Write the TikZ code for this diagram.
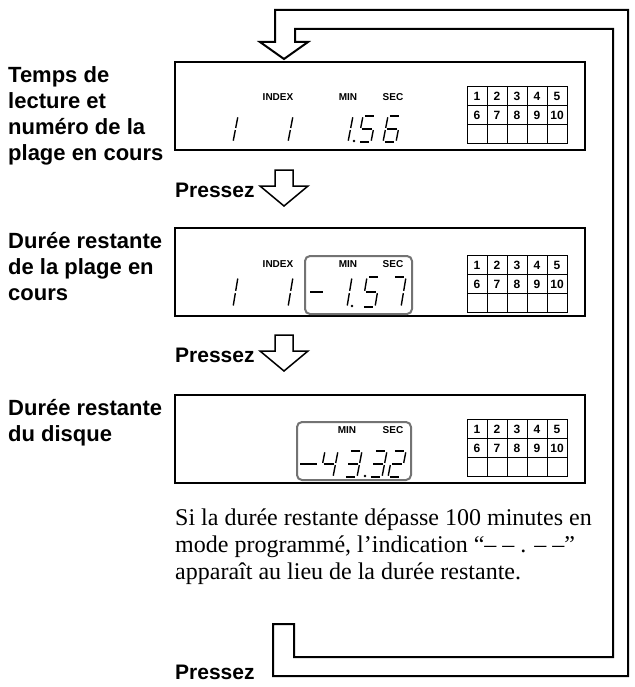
\documentclass[tikz,border=0pt]{standalone}
\usepackage{fontspec}
\setmainfont{Liberation Serif}
\setsansfont{Liberation Sans}
\usetikzlibrary{positioning}

% one slanted seven-segment digit: [height] {position} {segments}
\newcommand{\lcddigit}[3][26]{%
  \begin{scope}[shift={#2}, x={(13pt,0pt)}, y={(5pt,#1pt)}]
    \coordinate (a1) at (0.14,1);    \coordinate (a2) at (0.86,1);
    \coordinate (b1) at (1,0.95);    \coordinate (b2) at (1,0.54);
    \coordinate (c1) at (1,0.46);    \coordinate (c2) at (1,0.05);
    \coordinate (d1) at (0.14,0);    \coordinate (d2) at (0.86,0);
    \coordinate (e1) at (0,0.46);    \coordinate (e2) at (0,0.05);
    \coordinate (f1) at (0,0.95);    \coordinate (f2) at (0,0.54);
    \coordinate (g1) at (0.14,0.5);  \coordinate (g2) at (0.86,0.5);
    \foreach \s in {#3} \draw[lcd] (\s1) -- (\s2);
  \end{scope}}
\newcommand{\lcddot}[1]{\fill #1 circle[radius=1.3pt];}

% track grid 1..10 with an empty third row
\newcommand{\trackgrid}[2]{%
  \begin{scope}[shift={#2}]
    \draw[gridline] (0,0) rectangle (100,57);
    \foreach \i in {1,...,4} \draw[gridline] (20*\i,0) -- (20*\i,57);
    \foreach \j in {1,2} \draw[gridline] (0,19*\j) -- (100,19*\j);
    \foreach \n in {1,...,5} {
      \pgfmathtruncatemacro\m{\n+5}
      \node[tracknum] (#1-\n) at (20*\n-10,10) {\n};
      \node[tracknum] (#1-\m) at (20*\n-10,29) {\m};
    }
  \end{scope}}

\begin{document}
\begin{tikzpicture}[
  x=1pt, y=-1pt,
  display/.style ={draw, line width=2.2pt, minimum width=410pt, minimum height=88pt, inner sep=0pt},
  window/.style  ={draw=black!55, line width=2pt, rounded corners=5pt, inner sep=0pt},
  tag/.style     ={font=\sffamily\bfseries\fontsize{10}{12}\selectfont, inner sep=0pt},
  caption/.style ={font=\sffamily\bfseries\fontsize{22}{26}\selectfont, align=left, anchor=north west, inner sep=0pt},
  press/.style   ={font=\sffamily\bfseries\fontsize{21}{26}\selectfont, anchor=base west, inner sep=0pt},
  note/.style    ={font=\fontsize{24}{27}\selectfont, align=left, anchor=north west, inner sep=0pt},
  pipe/.style    ={line width=2pt, line join=miter},
  hollow/.style  ={line width=1.5pt, line join=miter},
  lcd/.style     ={line width=1.4pt},
  gridline/.style={line width=0.8pt},
  tracknum/.style={font=\sffamily\bfseries\fontsize{12}{14}\selectfont, inner sep=0pt}
]
\useasboundingbox (0,0) rectangle (634,687);

% ---- return loop with the big hollow arrow ----
\draw[pipe] (275,42) -- (275,10) -- (628,10) -- (628,676) -- (273,676) -- (273,624)
  -- (294,624) -- (294,657) -- (613,657) -- (613,29) -- (295,29) -- (295,42)
  -- (308,42) -- (284,59) -- (260,42) -- cycle;

% ---- display 1: elapsed time ----
\node[caption] (lab1) at (8,66) {Temps de\\lecture et\\numéro de la\\plage en cours};
\node[display] (disp1) at (380,106) {};
\node[tag] (idx1) at (278,97) {INDEX};
\node[tag] (min1) at (348,97) {MIN};
\node[tag] (sec1) at (393,97) {SEC};
\lcddigit{(220,142)}{b,c}
\lcddigit{(275,142)}{b,c}
\lcddigit{(335,142)}{b,c}
\lcddot{(354,141)}
\lcddigit{(358,142)}{a,f,g,c,d}
\lcddigit{(383,142)}{a,f,g,e,c,d}
\trackgrid{t1}{(467,86)}

\node[press] (press1) at (175,197) {Pressez};
\draw[hollow] (275,170) -- (293,170) -- (293,186) -- (308,186) -- (284,206) -- (260,186) -- (275,186) -- cycle;

% ---- display 2: remaining time of the track ----
\node[caption] (lab2) at (8,232) {Durée restante\\de la plage en\\cours};
\node[display] (disp2) at (380,272) {};
\node[window, minimum width=107pt, minimum height=58pt] (win2) at (358.5,285) {};
\node[tag] (idx2) at (278,264) {INDEX};
\node[tag] (min2) at (348,264) {MIN};
\node[tag] (sec2) at (393,264) {SEC};
\lcddigit[30]{(220,307)}{b,c}
\lcddigit[30]{(275,307)}{b,c}
\draw[lcd] (310,292) -- (323,292);
\lcddigit[30]{(334,307)}{b,c}
\lcddot{(352,306)}
\lcddigit[30]{(362,307)}{a,f,g,c,d}
\lcddigit[30]{(388,307)}{a,b,c}
\trackgrid{t2}{(467,255)}

\node[press] (press2) at (175,362) {Pressez};
\draw[hollow] (275,335) -- (293,335) -- (293,351) -- (308,351) -- (284,371) -- (260,351) -- (275,351) -- cycle;

% ---- display 3: remaining time of the disc ----
\node[caption] (lab3) at (8,399) {Durée restante\\du disque};
\node[display] (disp3) at (380,439) {};
\node[window, minimum width=114pt, minimum height=58pt] (win3) at (354,451) {};
\node[tag] (min3) at (347,430) {MIN};
\node[tag] (sec3) at (393,430) {SEC};
\draw[lcd] (300,464) -- (317,464);
\lcddigit{(320,477)}{f,g,b,c}
\lcddigit{(344,477)}{a,b,g,c,d}
\lcddot{(365,476)}
\lcddigit{(369,477)}{a,b,g,c,d}
\lcddigit{(388,477)}{a,b,g,e,d}
\trackgrid{t3}{(467,419)}

\node[note] (note) at (175,509) {Si la durée restante dépasse 100 minutes en\\mode programmé, l’indication “– – . – –”\\apparaît au lieu de la durée restante.};

\node[press] (press3) at (175,679) {Pressez};

\end{tikzpicture}
\end{document}
